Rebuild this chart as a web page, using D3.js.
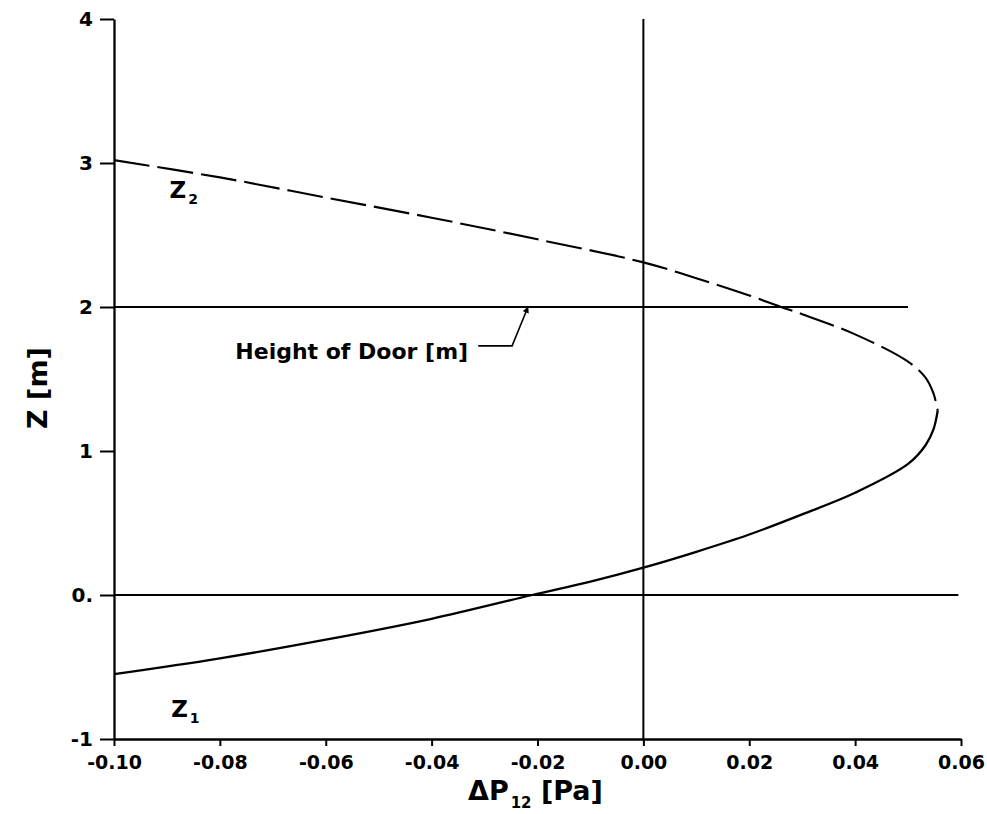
<!DOCTYPE html>
<html>
<head>
<meta charset="utf-8">
<script src="https://cdn.jsdelivr.net/npm/d3@7"></script>
<style>
  body { margin: 0; background: #fff; }
  svg { display: block; }
</style>
</head>
<body>
<svg id="chart" width="987" height="814"></svg>
<script>
// Data: pressure difference dP12 [Pa] vs height Z [m]
// lower branch (Z1, solid)
const z1Pressure = [-0.100, -0.080, -0.060, -0.040, -0.021, -0.010, 0.000, 0.010, 0.020, 0.030, 0.040, 0.050, 0.0533, 0.0548, 0.0556];
const z1Height   = [-0.55, -0.44, -0.31, -0.165, 0.0, 0.093, 0.19, 0.30, 0.42, 0.56, 0.71, 0.91, 1.04, 1.15, 1.28];
// upper branch (Z2, dashed)
const z2Pressure = [-0.100, -0.080, -0.060, -0.040, -0.020, 0.000, 0.010, 0.020, 0.026, 0.030, 0.040, 0.050, 0.0533, 0.0548, 0.0556];
const z2Height   = [3.02, 2.90, 2.76, 2.62, 2.47, 2.31, 2.20, 2.08, 2.00, 1.95, 1.81, 1.62, 1.51, 1.40, 1.28];

const xTicks = [-0.10, -0.08, -0.06, -0.04, -0.02, 0.00, 0.02, 0.04, 0.06];
const yTicks = [-1, 0, 1, 2, 3, 4];
const yTickLabels = ["-1", "0.", "1", "2", "3", "4"];

// reference lines: door height and floor level
const doorHeight = 2;
const doorLineEnd = 0.05;
const floorLineEnd = 0.0595;

const dimensions = {
  width: 987,
  height: 814,
  left: 114,
  right: 961,
  top: 19,
  bottom: 739,
};

const font = "'DejaVu Sans', sans-serif";

const svg = d3.select("#chart");
svg.append("rect").attr("width", dimensions.width).attr("height", dimensions.height).attr("fill", "#fff");

// scales
const xScale = d3.scaleLinear([-0.10, 0.06], [dimensions.left, dimensions.right]);
const yScale = d3.scaleLinear([-1, 4], [dimensions.bottom, dimensions.top]);

const defs = svg.append("defs");
defs.append("marker")
  .attr("id", "arrow")
  .attr("viewBox", "0 0 10 10")
  .attr("refX", 9)
  .attr("refY", 5)
  .attr("markerWidth", 5.5)
  .attr("markerHeight", 4)
  .attr("markerUnits", "strokeWidth")
  .attr("orient", "auto")
  .append("path")
  .attr("d", "M0,0 L10,5 L0,10 Z")
  .attr("fill", "#000");

// reference lines
const refs = svg.append("g").attr("stroke", "#000").attr("stroke-width", 2);
refs.append("line")
  .attr("x1", xScale(0)).attr("x2", xScale(0))
  .attr("y1", yScale(4)).attr("y2", yScale(-1));
refs.append("line")
  .attr("x1", xScale(-0.10)).attr("x2", xScale(doorLineEnd))
  .attr("y1", yScale(doorHeight)).attr("y2", yScale(doorHeight));
refs.append("line")
  .attr("x1", xScale(-0.10)).attr("x2", xScale(floorLineEnd))
  .attr("y1", yScale(0)).attr("y2", yScale(0));

// curves
const line = d3.line()
  .curve(d3.curveCatmullRom.alpha(0.5))
  .x((d) => xScale(d[0]))
  .y((d) => yScale(d[1]));

const lower = d3.zip(z1Pressure, z1Height);
const upper = d3.zip(z2Pressure, z2Height);

svg.append("path")
  .datum(lower)
  .attr("fill", "none")
  .attr("stroke", "#000")
  .attr("stroke-width", 2.3)
  .attr("stroke-linejoin", "round")
  .attr("d", line);

svg.append("path")
  .datum(upper)
  .attr("fill", "none")
  .attr("stroke", "#000")
  .attr("stroke-width", 2.1)
  .attr("stroke-dasharray", "36,8")
  .attr("d", line);

// axes
const yAxis = d3.axisLeft(yScale)
  .tickValues(yTicks)
  .tickFormat((d, i) => yTickLabels[i])
  .tickSize(14)
  .tickSizeOuter(0)
  .tickPadding(7);

const xAxis = d3.axisBottom(xScale)
  .tickValues(xTicks)
  .tickFormat((d) => d.toFixed(2))
  .tickSize(7)
  .tickSizeOuter(0)
  .tickPadding(10);

svg.append("g")
  .attr("class", "y-axis")
  .attr("transform", `translate(${dimensions.left},0)`)
  .call(yAxis)
  .call((g) => g.select(".domain").attr("stroke-width", 2.3))
  .call((g) => g.selectAll(".tick line").attr("stroke-width", 2))
  .call((g) => g.selectAll(".tick text")
    .attr("fill", "#000")
    .style("font-family", font)
    .style("font-size", "20px")
    .style("font-weight", 700));

svg.append("g")
  .attr("class", "x-axis")
  .attr("transform", `translate(0,${dimensions.bottom})`)
  .call(xAxis)
  .call((g) => g.select(".domain").attr("stroke-width", 2.3))
  .call((g) => g.selectAll(".tick line").attr("stroke-width", 2))
  .call((g) => g.selectAll(".tick text")
    .attr("fill", "#000")
    .style("font-family", font)
    .style("font-size", "19px")
    .style("font-weight", 700));

// axis titles
const xTitle = svg.append("text")
  .attr("x", 468)
  .attr("y", 800)
  .style("font-family", font)
  .style("font-size", "27px")
  .style("font-weight", 700);
xTitle.append("tspan").text("ΔP");
xTitle.append("tspan").attr("dy", 8).attr("dx", 2).style("font-size", "15px").text("12");
xTitle.append("tspan").attr("dy", -8).text(" [Pa]");

svg.append("text")
  .attr("transform", "translate(47,388) rotate(-90)")
  .attr("text-anchor", "middle")
  .style("font-family", font)
  .style("font-size", "27px")
  .style("font-weight", 700)
  .text("Z [m]");

// branch labels
function branchLabel(p, z, sub) {
  const t = svg.append("text")
    .attr("x", xScale(p))
    .attr("y", yScale(z))
    .style("font-family", font)
    .style("font-size", "23px")
    .style("font-weight", 700);
  t.append("tspan").text("Z");
  t.append("tspan").attr("dy", 6).attr("dx", 2).style("font-size", "14px").text(sub);
}
branchLabel(-0.0895, 2.76, "2");
branchLabel(-0.0892, -0.845, "1");

// door annotation with leader arrow
const doorLabelEnd = -0.0331;
const doorLabelZ = 1.64;
svg.append("text")
  .attr("x", xScale(doorLabelEnd))
  .attr("y", yScale(doorLabelZ))
  .attr("text-anchor", "end")
  .style("font-family", font)
  .style("font-size", "22px")
  .style("font-weight", 700)
  .text("Height of Door [m]");

const leader = [[-0.0312, 1.73], [-0.0248, 1.73], [-0.0218, doorHeight]];
svg.append("path")
  .datum(leader)
  .attr("fill", "none")
  .attr("stroke", "#000")
  .attr("stroke-width", 1.6)
  .attr("marker-end", "url(#arrow)")
  .attr("d", d3.line().x((d) => xScale(d[0])).y((d) => yScale(d[1])));
</script>
</body>
</html>
